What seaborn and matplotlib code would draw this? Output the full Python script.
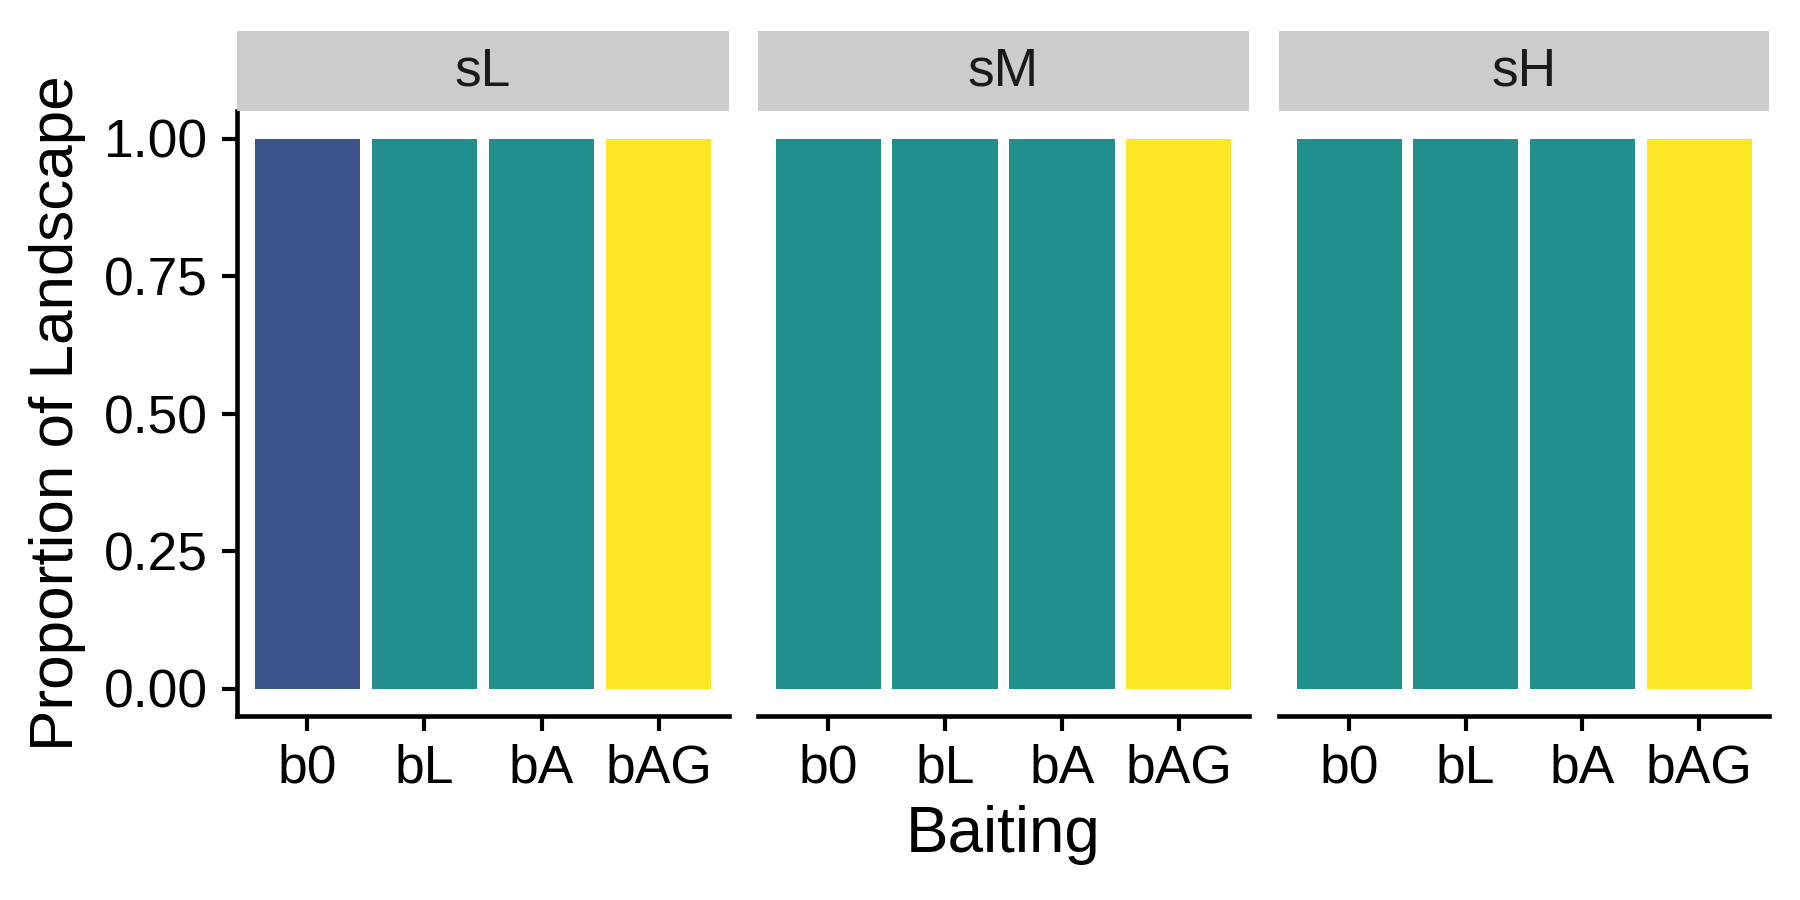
import pandas as pd
import numpy as np
import matplotlib
matplotlib.use('Agg')
import matplotlib.pyplot as plt
import seaborn as sns

# Data
scenarios = ['sL', 'sM', 'sH']
baiting = ['b0', 'bL', 'bA', 'bAG']
proportion = {
    'sL': [1.0, 1.0, 1.0, 1.0],
    'sM': [1.0, 1.0, 1.0, 1.0],
    'sH': [1.0, 1.0, 1.0, 1.0],
}
# which outcome class each bar belongs to (sets the fill colour)
outcome = {
    'sL': ['c2', 'c3', 'c3', 'c5'],
    'sM': ['c3', 'c3', 'c3', 'c5'],
    'sH': ['c3', 'c3', 'c3', 'c5'],
}
outcome_colors = {'c2': '#3B528B', 'c3': '#21908C', 'c5': '#FDE725'}

rows = []
for s in scenarios:
    for b, p, o in zip(baiting, proportion[s], outcome[s]):
        rows.append({'scenario': s, 'baiting': b, 'prop': p, 'outcome': o})
df = pd.DataFrame(rows)

sns.set_style('ticks')
plt.rcParams['font.family'] = ['Liberation Sans', 'DejaVu Sans']
plt.rcParams['text.color'] = 'black'

fig = plt.figure(figsize=(6, 3), dpi=300)

W, H = 1800.0, 900.0
panel_x = [(237, 729), (758, 1249), (1279, 1769)]
ax_top, ax_bottom = 111, 716
strip_top = 31

for i, s in enumerate(scenarios):
    x0, x1 = panel_x[i]
    ax = fig.add_axes([x0 / W, 1 - ax_bottom / H, (x1 - x0) / W, (ax_bottom - ax_top) / H])
    sub = df[df['scenario'] == s]
    sns.barplot(data=sub, x='baiting', y='prop', hue='outcome', order=baiting,
                palette=outcome_colors, dodge=False, width=0.9, legend=False,
                saturation=1, linewidth=0, ax=ax)
    ax.set_xlim(-0.6, 3.6)
    ax.set_ylim(-0.05, 1.05)
    ax.set_xlabel('')
    ax.set_ylabel('')
    for sp in ['top', 'right']:
        ax.spines[sp].set_visible(False)
    for sp in ['bottom', 'left']:
        ax.spines[sp].set_linewidth(1.1)
        ax.spines[sp].set_color('black')
    ax.tick_params(axis='x', direction='out', length=3.5, width=1.0, pad=3,
                   labelsize=12.8, color='black', labelcolor='black')
    ax.tick_params(axis='y', direction='out', length=3.5, width=1.0, pad=3.5,
                   labelsize=12.8, color='black', labelcolor='black')
    if i == 0:
        ax.set_yticks([0, 0.25, 0.5, 0.75, 1.0])
        ax.set_yticklabels(['0.00', '0.25', '0.50', '0.75', '1.00'])
    else:
        ax.spines['left'].set_visible(False)
        ax.set_yticks([])

    # facet strip
    sax = fig.add_axes([x0 / W, 1 - ax_top / H, (x1 - x0) / W, (ax_top - strip_top) / H])
    sax.set_facecolor('#CCCCCC')
    for sp in sax.spines.values():
        sp.set_visible(False)
    sax.set_xticks([])
    sax.set_yticks([])
    sax.text(0.5, 0.5, s, ha='center', va='center', fontsize=12.8, color='#1A1A1A',
             transform=sax.transAxes)

fig.text(1003 / W, 1 - 835 / H, 'Baiting', ha='center', va='center', fontsize=15.3)
fig.text(58 / W, 1 - 413 / H, 'Proportion of Landscape', ha='center', va='center',
         rotation=90, fontsize=14.9)

fig.savefig('out.png', dpi=300)
